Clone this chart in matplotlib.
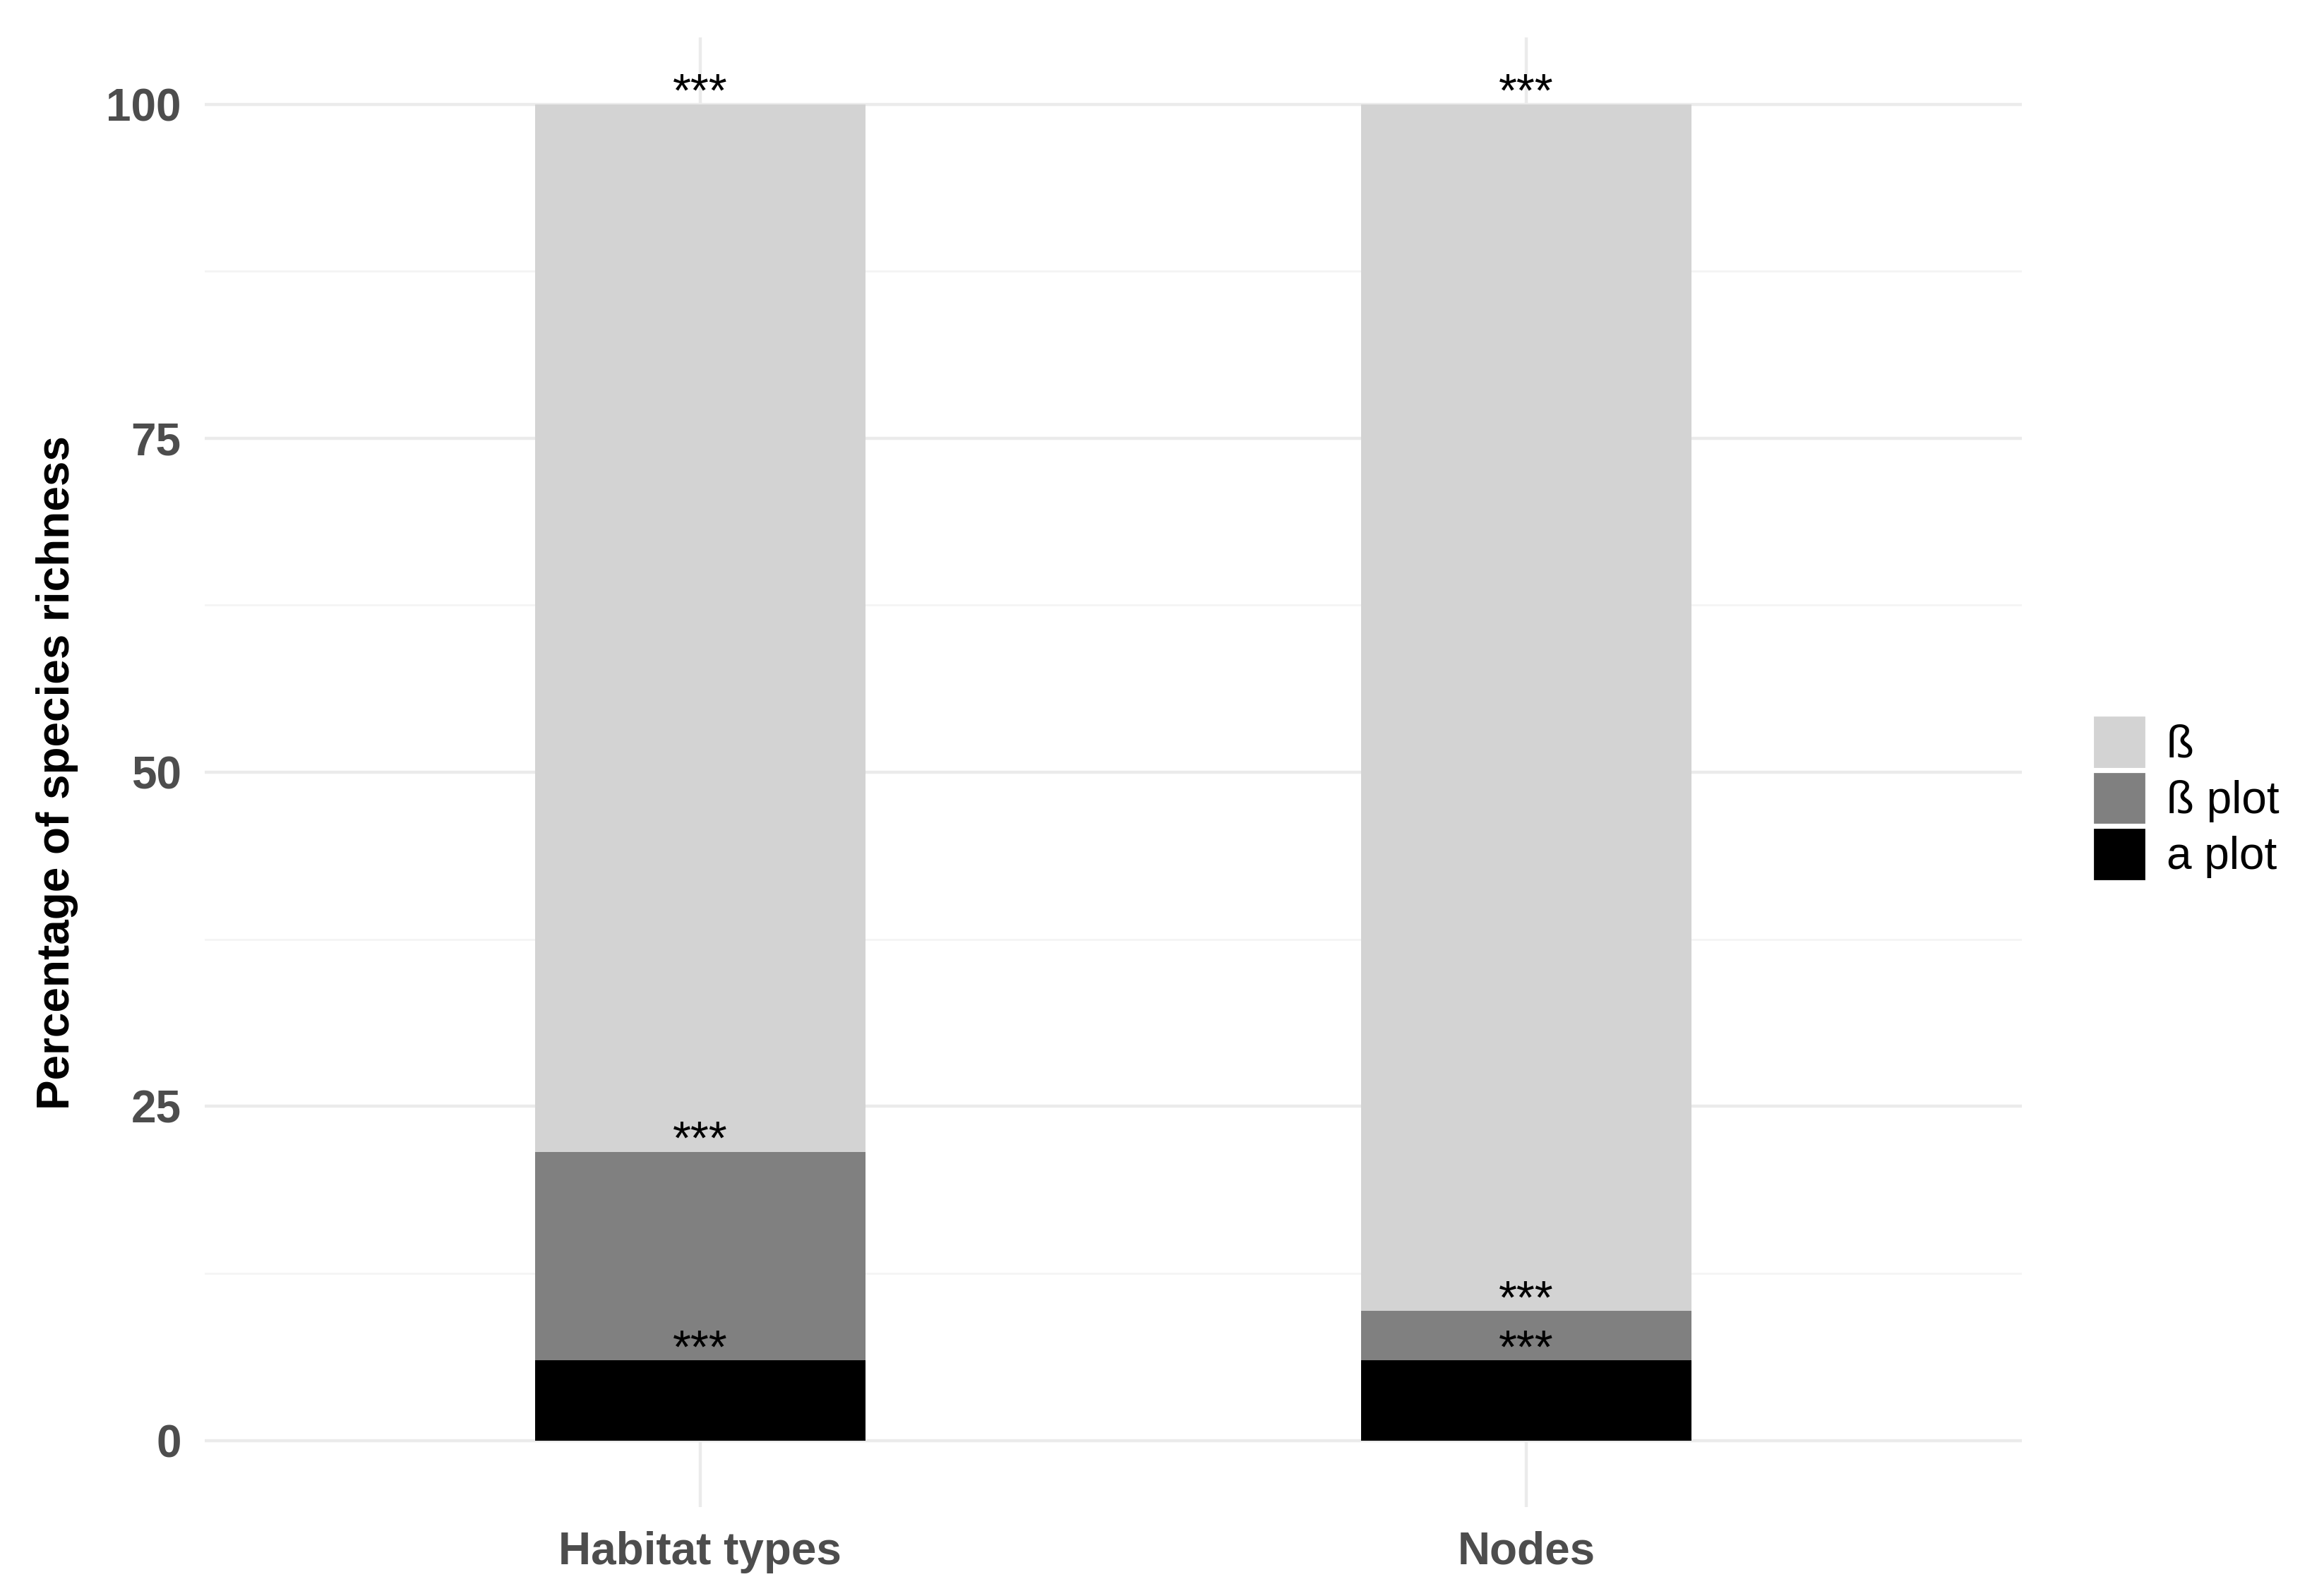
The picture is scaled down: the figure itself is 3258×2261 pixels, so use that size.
import matplotlib.pyplot as plt
from matplotlib.patches import Patch

plt.rcParams['font.family'] = ['Liberation Sans', 'DejaVu Sans']

categories = ["Habitat types", "Nodes"]
alpha_plot = [6.0, 6.0]
beta_plot = [15.6, 3.7]
beta = [78.4, 90.3]
stars_alpha = ["***", "***"]
stars_beta_plot = ["***", "***"]
stars_beta = ["***", "***"]

fig = plt.figure(figsize=(16.29, 11.305), dpi=200)
ax = fig.add_axes([0.089, 0.0556, 0.79, 0.921])

x = [1, 2]
w = 0.4
ax.bar(x, alpha_plot, width=w, color="black", zorder=3)
b2 = [a for a in alpha_plot]
ax.bar(x, beta_plot, width=w, bottom=b2, color="#808080", zorder=3)
b3 = [a + b for a, b in zip(alpha_plot, beta_plot)]
ax.bar(x, beta, width=w, bottom=b3, color="#d3d3d3", zorder=3)

tops = [a + b + c for a, b, c in zip(alpha_plot, beta_plot, beta)]
for i in range(2):
    ax.text(x[i], alpha_plot[i] - 0.9, stars_alpha[i], ha="center", va="bottom", fontsize=24, zorder=4)
    ax.text(x[i], b3[i] - 0.9, stars_beta_plot[i], ha="center", va="bottom", fontsize=24, zorder=4)
    ax.text(x[i], tops[i] - 0.9, stars_beta[i], ha="center", va="bottom", fontsize=24, zorder=4)

ax.set_xlim(0.4, 2.6)
ax.set_ylim(-5, 105)
ax.set_yticks([0, 25, 50, 75, 100])
ax.set_yticks([12.5, 37.5, 62.5, 87.5], minor=True)
ax.set_xticks(x)
ax.set_xticklabels(categories)
ax.grid(True, which="major", color="#ebebeb", linewidth=1.6, zorder=0)
ax.grid(True, which="minor", axis="y", color="#f4f4f4", linewidth=1.0, zorder=0)
for s in ax.spines.values():
    s.set_visible(False)
ax.tick_params(which="both", length=0)
ax.tick_params(axis="both", labelsize=23, labelcolor="#4d4d4d", pad=12)
for lab in ax.get_xticklabels() + ax.get_yticklabels():
    lab.set_fontweight("bold")
ax.set_ylabel("Percentage of species richness", fontsize=23, fontweight="bold", labelpad=14)

handles = [Patch(color="#d3d3d3", label="ß"),
           Patch(color="#808080", label="ß plot"),
           Patch(color="black", label="a plot")]
fig.legend(handles=handles, loc="center left", bbox_to_anchor=(0.893, 0.5), frameon=False,
           fontsize=23, handlelength=1.1, handleheight=1.3, labelspacing=0.15, handletextpad=0.5)

fig.savefig("out.png", dpi=200, facecolor="white")
